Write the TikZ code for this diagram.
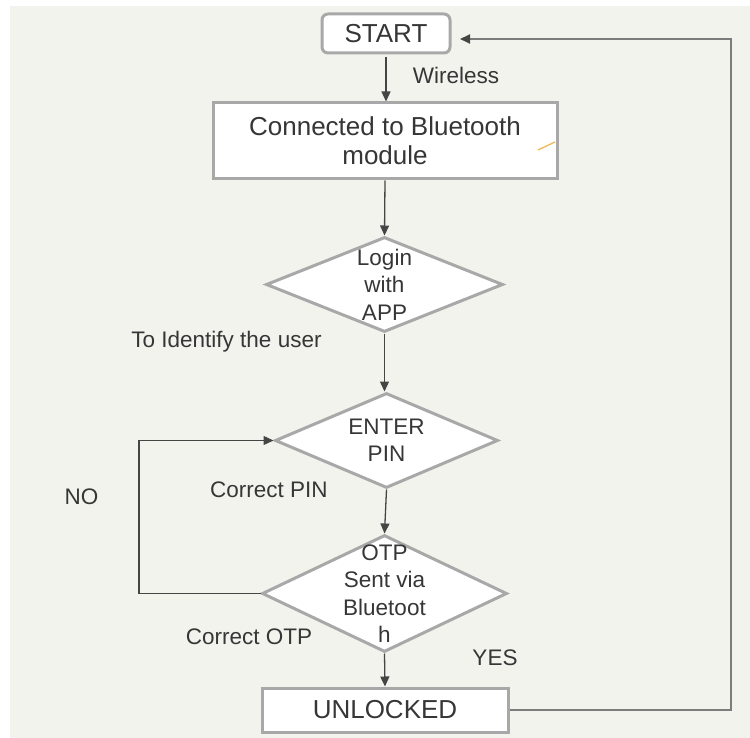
\documentclass[tikz,border=0pt]{standalone}
\usepackage{fontspec}
\setmainfont{Liberation Sans}
\usetikzlibrary{shapes.geometric,arrows.meta}

\definecolor{paper}{HTML}{F3F3EE}
\definecolor{ink}{HTML}{363636}
\definecolor{frame}{HTML}{A8A8A8}
\definecolor{wire}{HTML}{454545}
\definecolor{returnline}{HTML}{7C7C7C}
\definecolor{spark}{HTML}{F0B44A}

\begin{document}
\begin{tikzpicture}[x=1pt,y=-1pt,
  every node/.style={text=ink},
  bigtext/.style={font=\fontsize{26}{29}\selectfont},
  smalltext/.style={font=\fontsize{22.5}{27.5}\selectfont},
  stepbox/.style={draw=frame, line width=3pt, fill=white, inner sep=0pt,
    bigtext, align=center},
  decision/.style={diamond, draw=frame, line width=3pt, fill=white,
    inner sep=0pt},
  tip/.style={-{Triangle[length=10pt,width=9pt]}},
  flow/.style={draw=wire, line width=1.3pt, tip},
  backflow/.style={draw=returnline, line width=1.8pt,
    -{Triangle[length=10pt,width=9pt,color=wire,fill=wire]}},
  caption/.style={smalltext, anchor=base},
]
\useasboundingbox (0,0) rectangle (750,738);
\fill[white] (0,0) rectangle (750,738);
\fill[paper] (10,6) rectangle (750,738);

% process boxes
\node[stepbox, rounded corners=6pt, minimum width=128pt, minimum height=39pt]
  (start) at (386,33.5) {START};
\node[stepbox, minimum width=344pt, minimum height=76pt]
  (conn) at (385,141) {Connected to Bluetooth\\module};
\node[stepbox, minimum width=246pt, minimum height=44pt]
  (unlock) at (385,710) {UNLOCKED};

% small stray stroke inside the bluetooth box
\draw[spark, line width=1.2pt] (538,150) -- (555,142);

% decisions
\node[decision, minimum width=237pt, minimum height=95pt]
  (login) at (384.5,284.5) {};
\node[smalltext, align=center] (login-t) at (login) {Login\\with\\APP};

\node[decision, minimum width=223pt, minimum height=95pt]
  (pin) at (386.5,440.5) {};
\node[smalltext, align=center] (pin-t) at (pin) {ENTER\\PIN};

\node[decision, minimum width=245pt, minimum height=117pt]
  (otp) at (384.5,593.5) {};
\node[smalltext, align=center] (otp-t) at (otp) {OTP\\Sent via\\Bluetoot\\h};

% captions
\node[caption] (wireless)   at (456,84)    {Wireless};
\node[caption] (identify)   at (226.5,347) {To Identify the user};
\node[caption] (correctpin) at (269,497)   {Correct PIN};
\node[caption] (no)         at (81.5,504)  {NO};
\node[caption] (correctotp) at (249,644)   {Correct OTP};
\node[caption] (yes)        at (495,665)   {YES};

% main flow
\draw[flow, shorten <=3pt] (start.south) -- (start.south |- conn.north);
\draw[flow] (conn.south) -- (login.north);
\draw[flow] (login.south) -- (login.south |- pin.north);
\draw[flow] (pin.south) -- (otp.north);
\draw[flow] (otp.south) -- (unlock.north);

% retry loop on a wrong OTP
\coordinate (nobend) at (139,593);
\draw[flow] (otp.west) -- (otp.west -| nobend) |- (pin.west);

% return from UNLOCKED to START
\coordinate (backx) at (731,0);
\draw[backflow, shorten >=8.5pt]
  (unlock.east) -- (unlock.east -| backx) |- ([yshift=-5.5pt]start.east);
\end{tikzpicture}
\end{document}
